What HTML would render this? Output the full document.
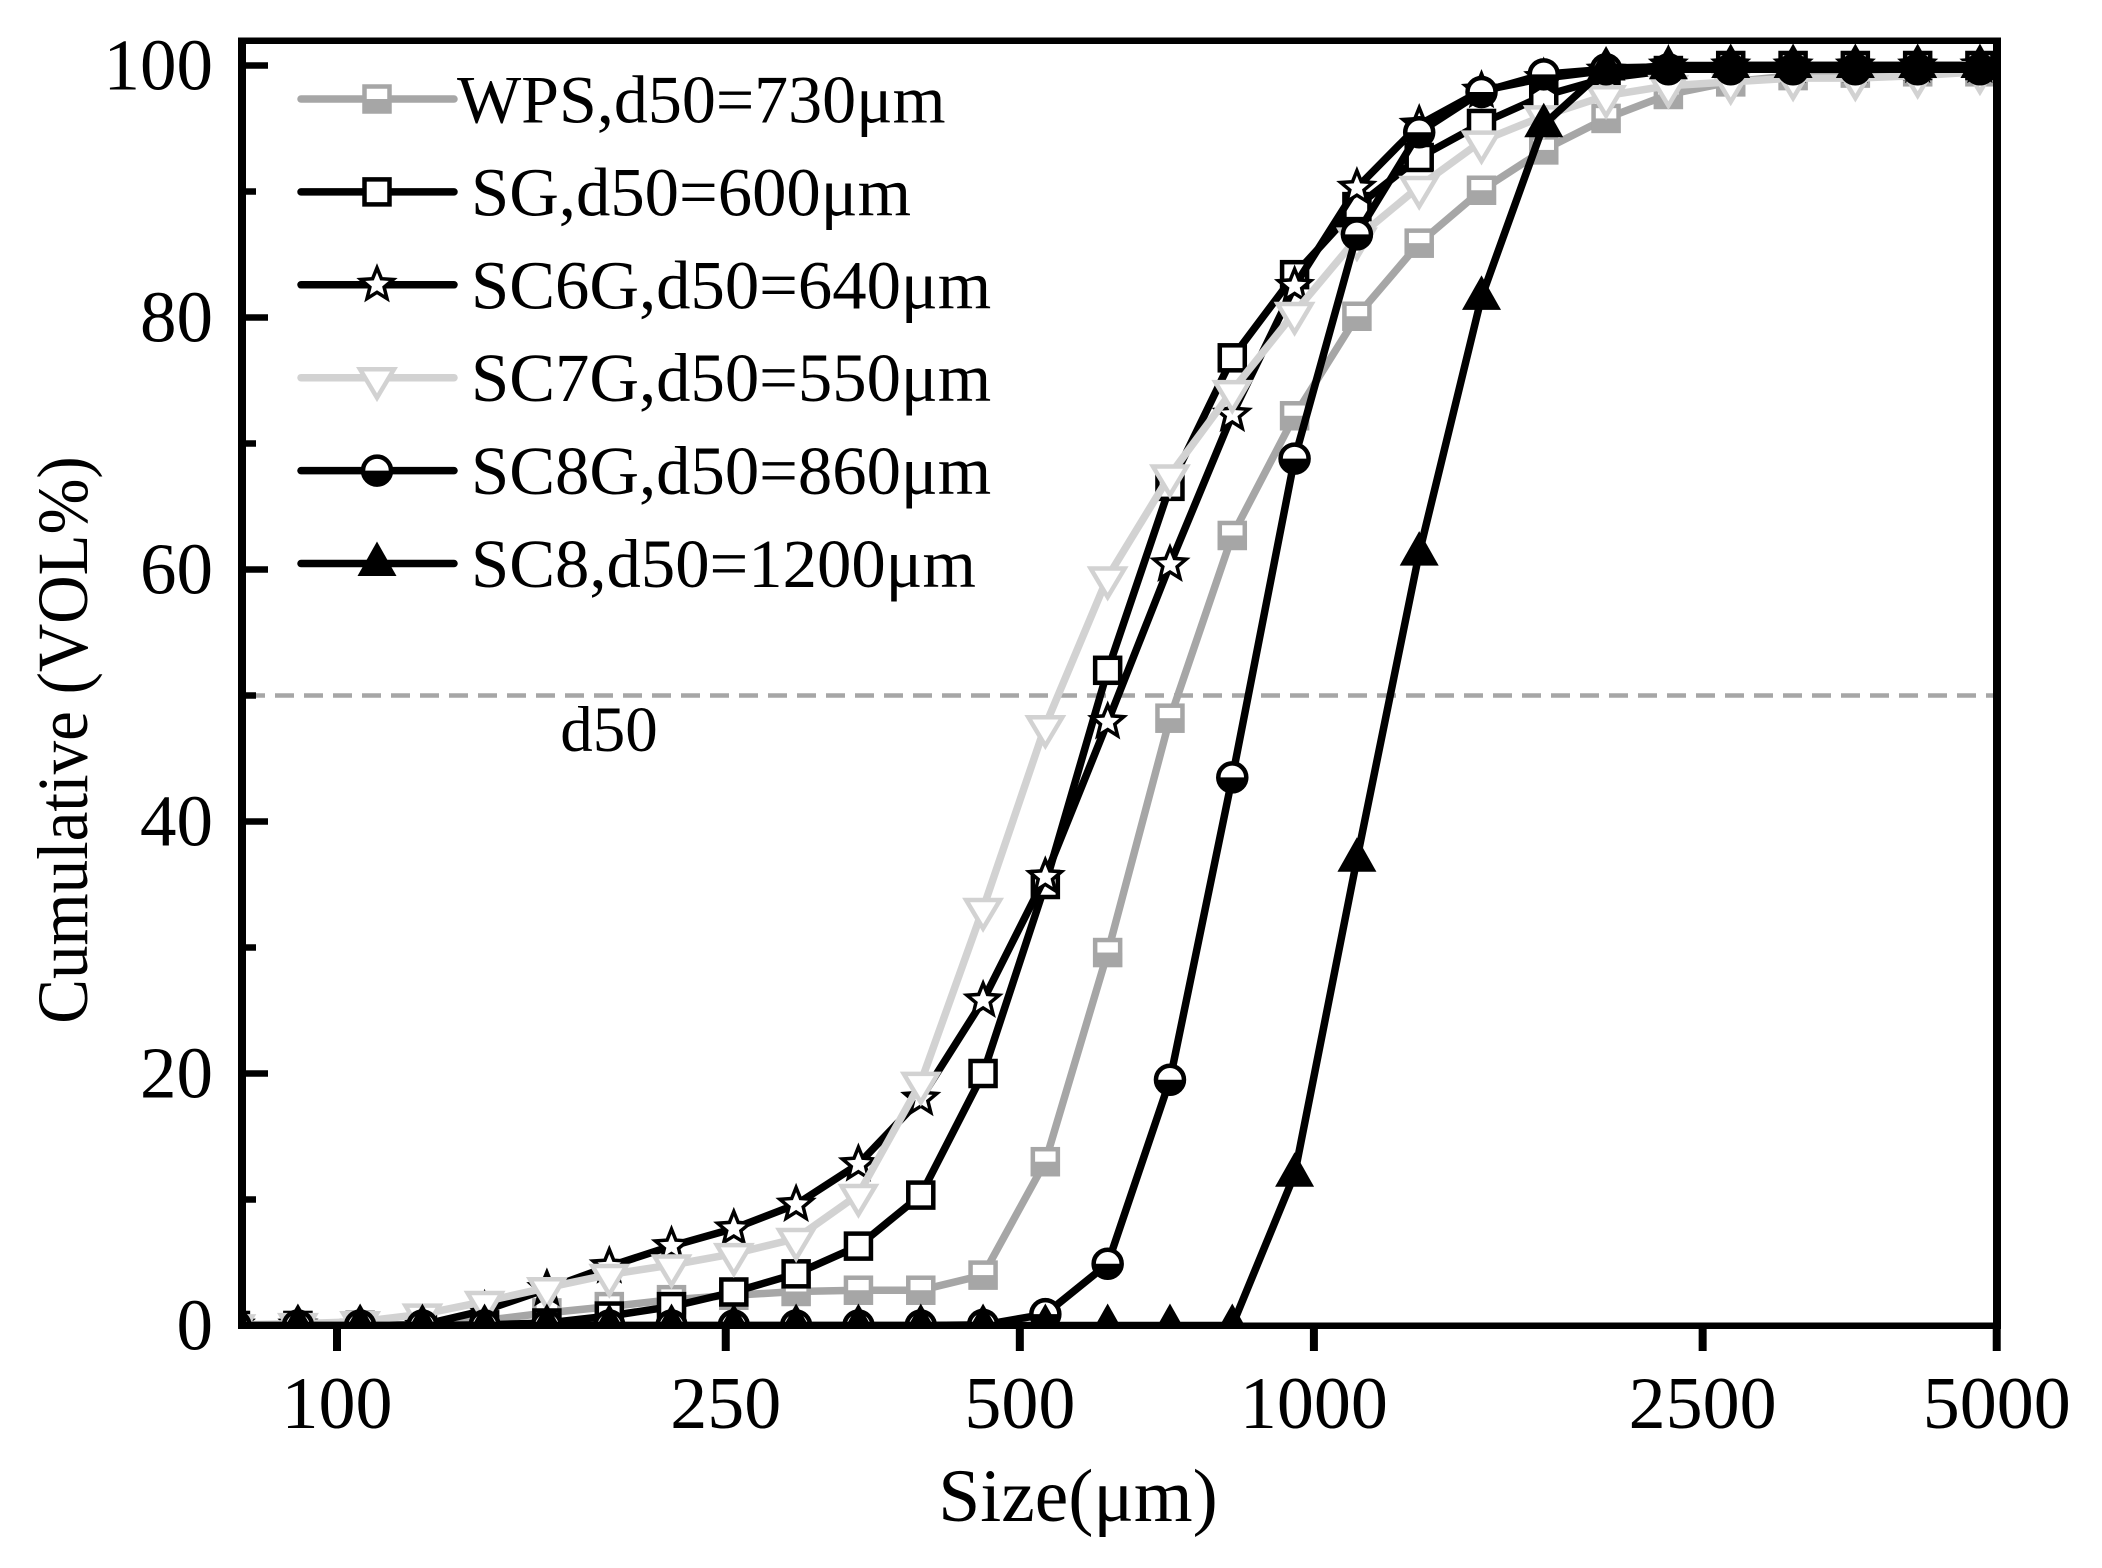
<!DOCTYPE html>
<html lang="en">
<head>
<meta charset="utf-8">
<title>Cumulative particle size distribution</title>
<style>
html,body{margin:0;padding:0;background:#fff;}
svg{display:block;}
text{font-family:"Liberation Serif",serif;fill:#000;}
</style>
</head>
<body>
<svg id="chart" xmlns="http://www.w3.org/2000/svg" width="2102" height="1568" viewBox="0 0 2102 1568">
  <defs>
    <clipPath id="plot-clip"><rect x="242" y="41" width="1755" height="1285"></rect></clipPath>
  </defs>
  <rect x="0" y="0" width="2102" height="1568" fill="#fff"></rect>
  <g id="plot"></g>
  <g id="axes"></g>
  <g id="legend"></g>
  <text x="1078" y="1521" font-size="75.5" text-anchor="middle">Size(μm)</text>
  <text transform="translate(87,740) rotate(-90) scale(1,1.07)" font-size="67" text-anchor="middle">Cumulative (VOL%)</text>
  <text x="609" y="751" font-size="65" text-anchor="middle">d50</text>
</svg>
<script>
// Particle size classes (µm)
var sizes = [78.7,91.2,105.6,122.3,141.6,164.0,190.0,220.0,254.8,295.1,341.8,395.9,458.5,531.0,615.0,712.3,825.0,955.5,1106.7,1281.7,1484.5,1719,1991,2306,2671,3094,3583,4150,4806];
// Cumulative volume (%) per series
var wps  = [0,0,0,0.05,0.4,1,1.5,2.05,2.4,2.7,2.8,2.8,4,13,29.6,48.2,62.7,72.2,80.1,85.9,90.1,93.3,95.8,97.7,98.7,99.2,99.4,99.5,99.5];
var sg   = [0,0,0,0,0.05,0.2,0.75,1.5,2.66,4.1,6.3,10.35,20,35,52,66.6,76.8,83.4,88.8,92.7,95.4,97.6,99,99.6,100,100,100,100,100];
var sc6g = [0,0,0,0.05,1.2,2.9,4.7,6.3,7.7,9.6,12.8,18,25.8,35.6,47.9,60.4,72.3,82.5,90.3,95.3,98,99,99.6,100,100,100,100,100,100];
var sc7g = [0.05,0.15,0.3,0.9,1.9,3,4.05,4.8,5.7,6.9,10.4,19.3,33.1,47.6,59.4,67.5,74.2,80.4,86.3,90.4,94,96,97.6,98.4,98.7,99,99,99.2,99.5];
var sc8g = [0,0,0,0,0,0,0,0,0,0,0,0,0.05,0.9,4.9,19.5,43.5,68.8,86.6,94.7,97.9,99.3,99.7,99.7,99.7,99.7,99.7,99.7,99.7];
var sc8  = [0,0,0,0,0,0,0,0,0,0,0,0,0,0,0,0,0,12,37,61.3,81.6,95.3,99.8,99.9,100,100,100,100,100];
// Tick labels
var xTicks = [100,250,500,1000,2500,5000];
var yMajorTicks = [0,20,40,60,80,100];
var yMinorTicks = [10,30,50,70,90];
var d50Reference = 50;
var legendLabels = ["WPS,d50=730μm","SG,d50=600μm","SC6G,d50=640μm","SC7G,d50=550μm","SC8G,d50=860μm","SC8,d50=1200μm"];

var NS = "http://www.w3.org/2000/svg";
function xScale(v){ return 337 + 976.9 * Math.log10(v / 100); }
function yScale(v){ return 1325.5 - 12.6 * v; }
function mk(tag, attrs, parent){
  var e = document.createElementNS(NS, tag);
  for (var k in attrs) e.setAttribute(k, attrs[k]);
  parent.appendChild(e);
  return e;
}
var GRAY = "#a6a6a6", LIGHT = "#d2d2d2", BLACK = "#000";

function drawMarker(kind, color, x, y, parent){
  var g = mk("g", {}, parent);
  
  
  if (kind === "half-square"){
    mk("rect", {x:x-12.5,y:y-12.5,width:25,height:25,fill:"#fff",stroke:color,"stroke-width":4.5}, g);
    mk("rect", {x:x-14.5,y:y,width:29,height:14.5,fill:color}, g);
  } else if (kind === "square"){
    mk("rect", {x:x-12.5,y:y-12.5,width:25,height:25,fill:"#fff",stroke:color,"stroke-width":4.5}, g);
  } else if (kind === "star"){
    var pts = [];
    for (var i = 0; i < 10; i++){
      var r = i % 2 ? 7.5 : 17;
      var a = -Math.PI / 2 + i * Math.PI / 5;
      pts.push((x + r * Math.cos(a)).toFixed(1) + "," + (y + r * Math.sin(a)).toFixed(1));
    }
    mk("polygon", {points:pts.join(" "),fill:"#fff",stroke:color,"stroke-width":3.5,"stroke-linejoin":"miter"}, g);
  } else if (kind === "inv-triangle"){
    var p = [[x-17,y-8.5],[x+17,y-8.5],[x,y+20]].map(function(q){return q[0]+","+q[1];}).join(" ");
    mk("polygon", {points:p,fill:"#fff",stroke:color,"stroke-width":4.5,"stroke-linejoin":"miter"}, g);
  } else if (kind === "half-circle"){
    mk("circle", {cx:x,cy:y,r:14,fill:"#fff",stroke:color,"stroke-width":4.5}, g);
    mk("path", {d:"M"+(x-16)+" "+y+"A16 16 0 0 0 "+(x+16)+" "+y+"Z",fill:color}, g);
  } else if (kind === "triangle"){
    var t = [[x-19.5,y+12.5],[x+19.5,y+12.5],[x,y-22]].map(function(q){return q[0]+","+q[1];}).join(" ");
    mk("polygon", {points:t,fill:color}, g);
  }
}

var seriesList = [
  {name:"wps",  values:wps,  color:GRAY,  marker:"half-square"},
  {name:"sg",   values:sg,   color:BLACK, marker:"square"},
  {name:"sc6g", values:sc6g, color:BLACK, marker:"star"},
  {name:"sc7g", values:sc7g, color:LIGHT, marker:"inv-triangle"},
  {name:"sc8g", values:sc8g, color:BLACK, marker:"half-circle"},
  {name:"sc8",  values:sc8,  color:BLACK, marker:"triangle"}
];

// Plot
var plot = document.getElementById("plot");
plot.setAttribute("clip-path", "url(#plot-clip)");

var refLine = mk("line", {x1:246,x2:1993,y1:yScale(d50Reference),y2:yScale(d50Reference),stroke:GRAY,"stroke-width":4.5,"stroke-dasharray":"19 10"}, plot);



seriesList.forEach(function(s){
  var g = mk("g", {}, plot);
  
  
  var pts = s.values.map(function(v, i){ return xScale(sizes[i]).toFixed(1) + "," + yScale(v).toFixed(1); }).join(" ");
  var line = mk("polyline", {points:pts,fill:"none",stroke:s.color,"stroke-width":7.5,"stroke-linejoin":"round"}, g);
  
  
  s.values.forEach(function(v, i){ drawMarker(s.marker, s.color, xScale(sizes[i]), yScale(v), g); });
});

// Axes
var axes = document.getElementById("axes");
var spines = [
  ["left-spine",238,37.5,8,1291.5],
  ["right-spine",1993,37.5,8,1291.5],
  ["top-spine",238,37.5,1763,6.5],
  ["bottom-spine",238,1322.5,1763,6.5]
];
spines.forEach(function(b){
  var r = mk("rect", {x:b[1],y:b[2],width:b[3],height:b[4],fill:BLACK}, axes);
  
  
});
xTicks.forEach(function(v){
  var t = mk("rect", {x:xScale(v)-4,y:1329,width:8,height:22,fill:BLACK}, axes);
  
  
  var l = mk("text", {x:xScale(v),y:1428,"font-size":74,"text-anchor":"middle"}, axes);
  l.textContent = v;
  
  
});
yMajorTicks.forEach(function(v){
  var t = mk("rect", {x:246,y:yScale(v)-3.25,width:22,height:6.5,fill:BLACK}, axes);
  
  
  var l = mk("text", {x:213,y:yScale(v)+24,"font-size":73,"text-anchor":"end"}, axes);
  l.textContent = v;
  
  
});
yMinorTicks.forEach(function(v){
  var t = mk("rect", {x:246,y:yScale(v)-3.25,width:10,height:6.5,fill:BLACK}, axes);
  
  
});

// Legend
var legend = document.getElementById("legend");
seriesList.forEach(function(s, i){
  var cy = 99 + 92.9 * i;
  var g = mk("g", {}, legend);
  
  
  mk("line", {x1:301,x2:454,y1:cy,y2:cy,stroke:s.color,"stroke-width":7.5,"stroke-linecap":"round"}, g);
  drawMarker(s.marker, s.color, 377, cy, g);
  var label = mk("text", {x:i === 0 ? 457 : 471,y:cy + 23.5,"font-size":i === 0 ? 68 : 68.7}, g);
  label.textContent = legendLabels[i];
  
  
});
</script>
</body>
</html>
